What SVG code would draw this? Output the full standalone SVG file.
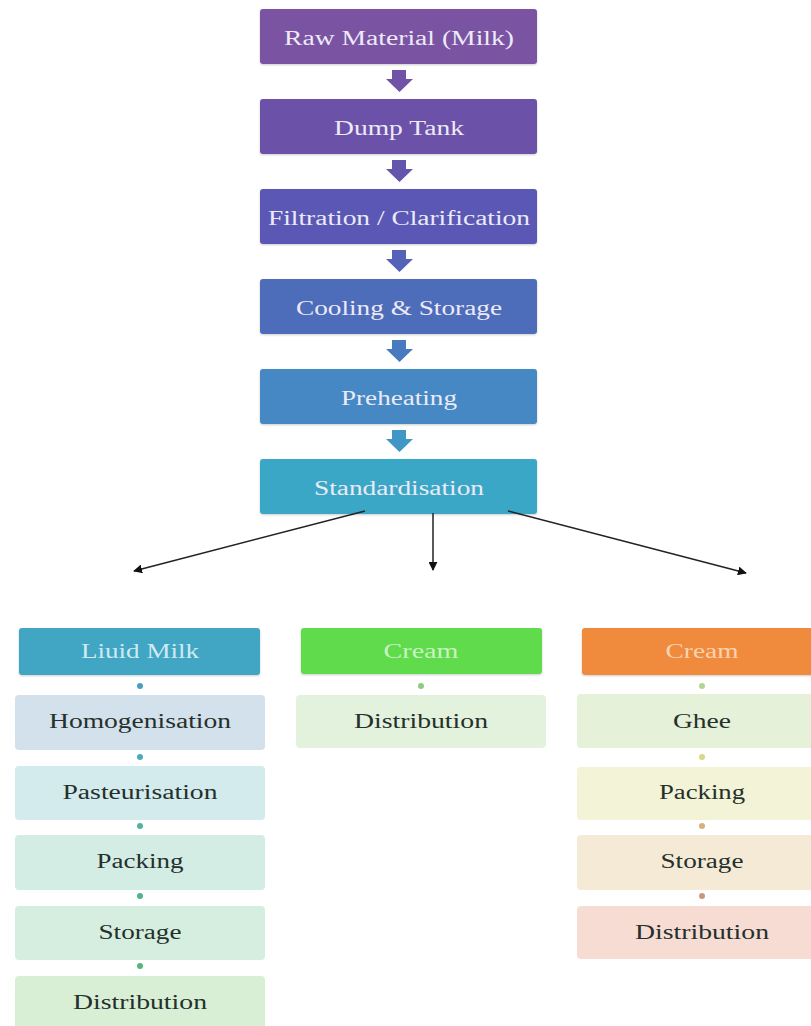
<svg xmlns="http://www.w3.org/2000/svg" width="811" height="1026" viewBox="0 0 811 1026">
<style>
.t{font-family:"Liberation Serif","Times New Roman",serif;font-size:20px;text-anchor:middle}
.w{fill:#eceaf6}
.d{fill:#25302b}
</style>
<defs>
<marker id="ah" viewBox="0 0 10 10" refX="9" refY="5" markerWidth="9" markerHeight="9" orient="auto" markerUnits="userSpaceOnUse">
<path d="M0,0 L10,5 L0,10 z" fill="#111"/>
</marker>
<filter id="sh" x="-5%" y="-10%" width="110%" height="130%">
<feDropShadow dx="0" dy="1" stdDeviation="1" flood-color="#000" flood-opacity="0.2"/>
</filter>
</defs>
<rect width="811" height="1026" fill="#fff"/>

<g id="n1"><rect x="260" y="9" width="277" height="55" rx="3" fill="#7a52a3" filter="url(#sh)"/><text class="t w" x="399" y="45" textLength="230" lengthAdjust="spacingAndGlyphs">Raw Material (Milk)</text></g>
<g id="n2"><rect x="260" y="99" width="277" height="55" rx="3" fill="#6c51a9" filter="url(#sh)"/><text class="t w" x="399" y="135" textLength="130" lengthAdjust="spacingAndGlyphs">Dump Tank</text></g>
<g id="n3"><rect x="260" y="189" width="277" height="55" rx="3" fill="#5a58b4" filter="url(#sh)"/><text class="t w" x="399" y="225" textLength="262" lengthAdjust="spacingAndGlyphs">Filtration / Clarification</text></g>
<g id="n4"><rect x="260" y="279" width="277" height="55" rx="3" fill="#4d6dba" filter="url(#sh)"/><text class="t w" x="399" y="315" textLength="206" lengthAdjust="spacingAndGlyphs">Cooling &amp; Storage</text></g>
<g id="n5"><rect x="260" y="369" width="277" height="55" rx="3" fill="#4588c3" filter="url(#sh)"/><text class="t w" x="399" y="405" textLength="116" lengthAdjust="spacingAndGlyphs">Preheating</text></g>
<g id="n6"><rect x="260" y="459" width="277" height="55" rx="3" fill="#3ba7c6" filter="url(#sh)"/><text class="t w" x="399" y="495" textLength="170" lengthAdjust="spacingAndGlyphs">Standardisation</text></g>

<g id="connectors">
<path d="M392,70 h14 v9 h7 l-13.5,13 l-13.5,-13 h6z" fill="#7152a6"/>
<path d="M392,160 h14 v9 h7 l-13.5,13 l-13.5,-13 h6z" fill="#6455ad"/>
<path d="M392,250 h14 v9 h7 l-13.5,13 l-13.5,-13 h6z" fill="#5462b7"/>
<path d="M392,340 h14 v9 h7 l-13.5,13 l-13.5,-13 h6z" fill="#497abf"/>
<path d="M392,430 h14 v9 h7 l-13.5,13 l-13.5,-13 h6z" fill="#4097c5"/>
<line x1="365" y1="511" x2="134" y2="571" stroke="#222" stroke-width="1.5" marker-end="url(#ah)"/>
<line x1="433" y1="513" x2="433" y2="570" stroke="#222" stroke-width="1.5" marker-end="url(#ah)"/>
<line x1="508" y1="511" x2="746" y2="573" stroke="#222" stroke-width="1.5" marker-end="url(#ah)"/>
<circle cx="140" cy="686" r="3" fill="#4a9fba"/>
<circle cx="140" cy="757" r="3" fill="#4aacb8"/>
<circle cx="140" cy="826" r="3" fill="#4db59f"/>
<circle cx="140" cy="896" r="3" fill="#50b488"/>
<circle cx="140" cy="966" r="3" fill="#55b57c"/>
<circle cx="421" cy="686" r="3" fill="#8fcc80"/>
<circle cx="702" cy="686" r="3" fill="#b5d58f"/>
<circle cx="702" cy="757" r="3" fill="#d8d888"/>
<circle cx="702" cy="826" r="3" fill="#d4b07e"/>
<circle cx="702" cy="896" r="3" fill="#cf967e"/>
</g>

<g id="h1"><rect x="19" y="628" width="241" height="47" rx="3" fill="#3fa6c4" filter="url(#sh)"/><text class="t" x="140" y="658" fill="#cfeaf1" textLength="118" lengthAdjust="spacingAndGlyphs">Liuid Milk</text></g>
<g id="l1"><rect x="15" y="695" width="250" height="55" rx="4" fill="#d3e1ec"/><text class="t d" x="140" y="728" textLength="182" lengthAdjust="spacingAndGlyphs">Homogenisation</text></g>
<g id="l2"><rect x="15" y="766" width="250" height="54" rx="4" fill="#d4ebee"/><text class="t d" x="140" y="799" textLength="155" lengthAdjust="spacingAndGlyphs">Pasteurisation</text></g>
<g id="l3"><rect x="15" y="835" width="250" height="55" rx="4" fill="#d3ede5"/><text class="t d" x="140" y="868" textLength="87" lengthAdjust="spacingAndGlyphs">Packing</text></g>
<g id="l4"><rect x="15" y="906" width="250" height="54" rx="4" fill="#d5eedf"/><text class="t d" x="140" y="939" textLength="83" lengthAdjust="spacingAndGlyphs">Storage</text></g>
<g id="l5"><rect x="15" y="976" width="250" height="55" rx="4" fill="#d8efd6"/><text class="t d" x="140" y="1009" textLength="134" lengthAdjust="spacingAndGlyphs">Distribution</text></g>

<g id="h2"><rect x="301" y="628" width="241" height="46" rx="3" fill="#5edb4b" filter="url(#sh)"/><text class="t" x="421" y="658" fill="#c9f2c1" textLength="75" lengthAdjust="spacingAndGlyphs">Cream</text></g>
<g id="m1"><rect x="296" y="695" width="250" height="53" rx="4" fill="#e3f2dc"/><text class="t d" x="421" y="728" textLength="134" lengthAdjust="spacingAndGlyphs">Distribution</text></g>

<g id="h3"><rect x="582" y="628" width="241" height="47" rx="3" fill="#f08a3c" filter="url(#sh)"/><text class="t" x="702" y="658" fill="#fbd2b2" textLength="73" lengthAdjust="spacingAndGlyphs">Cream</text></g>
<g id="r1"><rect x="577" y="694" width="250" height="54" rx="4" fill="#e5f1d8"/><text class="t d" x="702" y="728" textLength="58" lengthAdjust="spacingAndGlyphs">Ghee</text></g>
<g id="r2"><rect x="577" y="767" width="250" height="53" rx="4" fill="#f3f3d7"/><text class="t d" x="702" y="799" textLength="86" lengthAdjust="spacingAndGlyphs">Packing</text></g>
<g id="r3"><rect x="577" y="835" width="250" height="55" rx="4" fill="#f5ead6"/><text class="t d" x="702" y="868" textLength="83" lengthAdjust="spacingAndGlyphs">Storage</text></g>
<g id="r4"><rect x="577" y="906" width="250" height="53" rx="4" fill="#f6dcd3"/><text class="t d" x="702" y="939" textLength="134" lengthAdjust="spacingAndGlyphs">Distribution</text></g>
</svg>
